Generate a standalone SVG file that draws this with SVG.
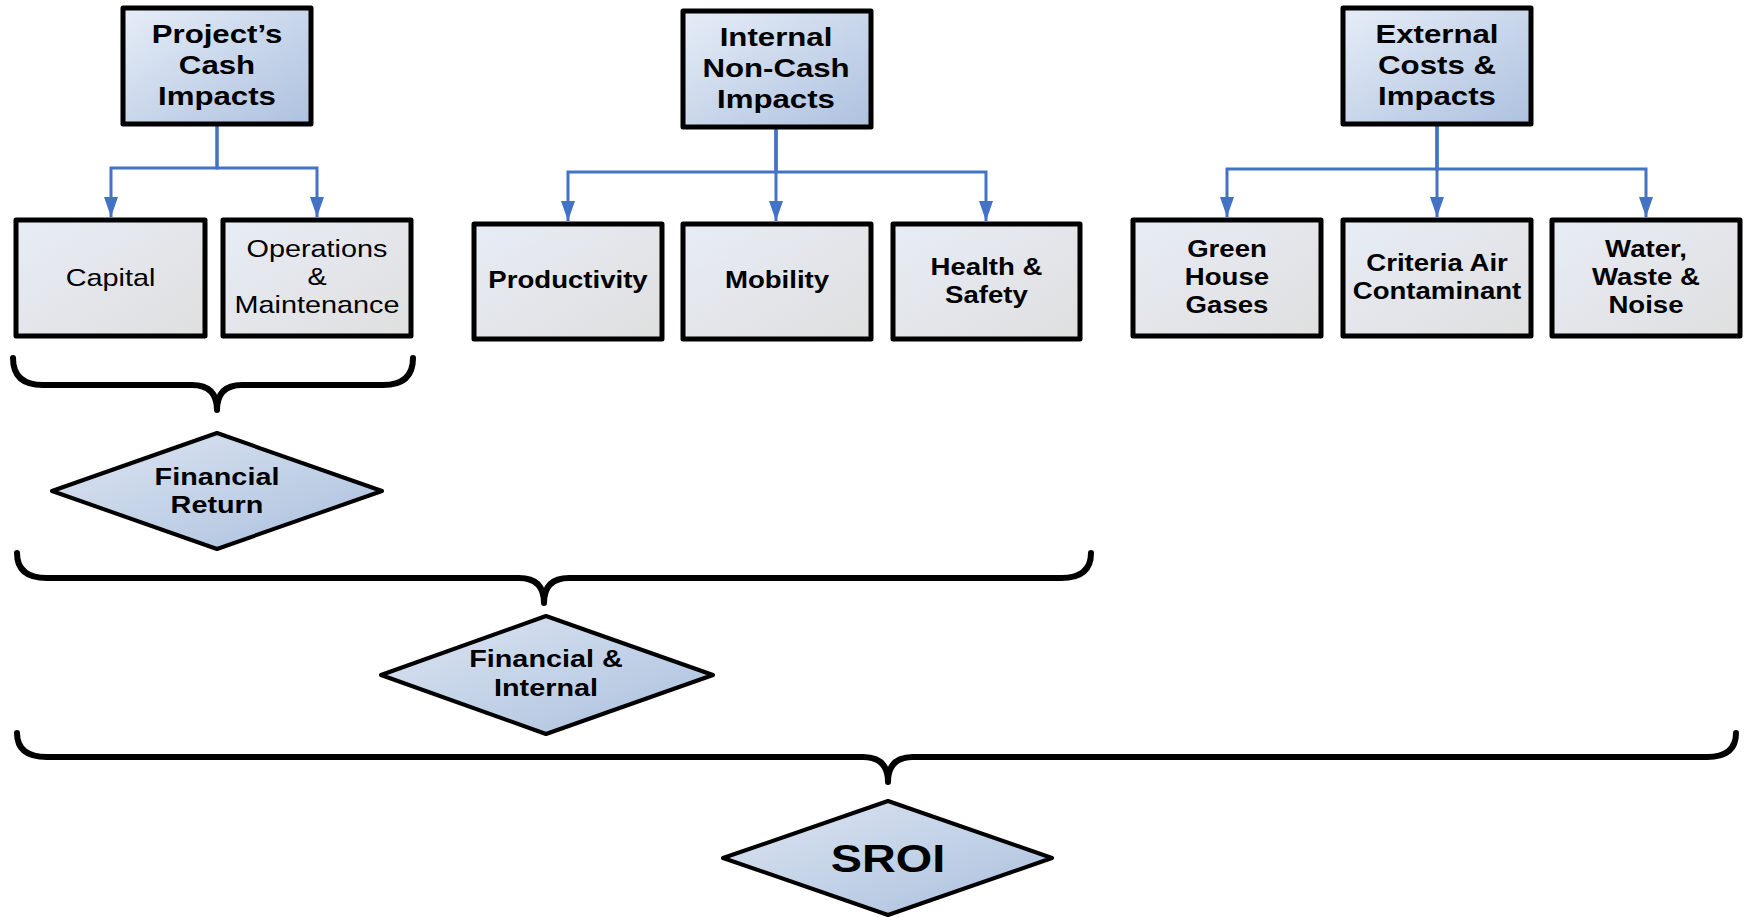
<svg xmlns="http://www.w3.org/2000/svg" width="1746" height="917" viewBox="0 0 1746 917">
<defs>
<linearGradient id="gTop" x1="0" y1="0" x2="1" y2="1">
<stop offset="0" stop-color="#e6edf7"/><stop offset="1" stop-color="#adc1df"/>
</linearGradient>
<linearGradient id="gChild" x1="0" y1="0" x2="1" y2="1">
<stop offset="0" stop-color="#e7ecf5"/><stop offset="1" stop-color="#dfdfdf"/>
</linearGradient>
<linearGradient id="gDia" x1="0" y1="0" x2="1" y2="1">
<stop offset="0" stop-color="#dde6f2"/><stop offset="1" stop-color="#aabfdd"/>
</linearGradient>
<marker id="arr" viewBox="0 0 20 14" markerUnits="userSpaceOnUse" markerWidth="20" markerHeight="14" refX="20" refY="7" orient="auto">
<path d="M0,0 L20,7 L0,14 z" fill="#4472c4"/>
</marker>
<style>
.top{fill:url(#gTop);stroke:#000;stroke-width:5;stroke-linejoin:round}
.child{fill:url(#gChild);stroke:#000;stroke-width:5;stroke-linejoin:round}
.dia{fill:url(#gDia);stroke:#000;stroke-width:4;stroke-linejoin:round}
.conn{fill:none;stroke:#4472c4;stroke-width:3;marker-end:url(#arr)}
.brace{fill:none;stroke:#000;stroke-width:6;stroke-linecap:round;stroke-linejoin:round}
text{font-family:"Liberation Sans",Arial,sans-serif;fill:#000;text-anchor:middle}
.tt{font-size:26px;font-weight:bold}
.cb{font-size:23px;font-weight:bold}
.cn{font-size:24px}
.dt{font-size:24px;font-weight:bold}
.sr{font-size:39px;font-weight:bold}
</style>
</defs>

<g id="connectors">
<path class="conn" d="M217 126 V168 H111 V217"/>
<path class="conn" d="M217 126 V168 H317 V217"/>
<path class="conn" d="M776 129 V172 H568 V221"/>
<path class="conn" d="M776 129 V221"/>
<path class="conn" d="M776 129 V172 H986 V221"/>
<path class="conn" d="M1437 126 V169 H1227 V217"/>
<path class="conn" d="M1437 126 V217"/>
<path class="conn" d="M1437 126 V169 H1646 V217"/>
</g>

<g id="braces">
<path class="brace" d="M13 358 Q13 385 43 385 H192 Q217 385 217 410 Q217 385 242 385 H383 Q413 385 413 358"/>
<path class="brace" d="M17 553 Q17 578 47 578 H519 Q544 578 544 603 Q544 578 569 578 H1061 Q1091 578 1091 553"/>
<path class="brace" d="M17 733 Q17 757 47 757 H863 Q888 757 888 782 Q888 757 913 757 H1707 Q1736 757 1736 733"/>
</g>

<g id="project-cash">
<rect class="top" x="123" y="8" width="188" height="116"/>
<g transform="matrix(1.2 0 0 1 217 0)"><text class="tt" x="0" y="43">Project’s</text><text class="tt" x="0" y="74">Cash</text><text class="tt" x="0" y="105">Impacts</text></g>
</g>
<g id="internal-noncash">
<rect class="top" x="683" y="11" width="188" height="116"/>
<g transform="matrix(1.2 0 0 1 776 0)"><text class="tt" x="0" y="46">Internal</text><text class="tt" x="0" y="77">Non-Cash</text><text class="tt" x="0" y="108">Impacts</text></g>
</g>
<g id="external-costs">
<rect class="top" x="1343" y="8" width="188" height="116"/>
<g transform="matrix(1.2 0 0 1 1437 0)"><text class="tt" x="0" y="43">External</text><text class="tt" x="0" y="74">Costs &amp;</text><text class="tt" x="0" y="105">Impacts</text></g>
</g>

<g id="capital">
<rect class="child" x="16" y="220" width="189" height="116"/>
<g transform="matrix(1.2 0 0 1 110.5 0)"><text class="cn" x="0" y="286">Capital</text></g>
</g>
<g id="operations">
<rect class="child" x="223" y="220" width="188" height="116"/>
<g transform="matrix(1.2 0 0 1 317 0)"><text class="cn" x="0" y="257">Operations</text><text class="cn" x="0" y="285">&amp;</text><text class="cn" x="0" y="313">Maintenance</text></g>
</g>
<g id="productivity">
<rect class="child" x="474" y="224" width="188" height="115"/>
<g transform="matrix(1.2 0 0 1 568 0)"><text class="cb" x="0" y="288">Productivity</text></g>
</g>
<g id="mobility">
<rect class="child" x="683" y="224" width="188" height="115"/>
<g transform="matrix(1.2 0 0 1 777 0)"><text class="cb" x="0" y="288">Mobility</text></g>
</g>
<g id="health-safety">
<rect class="child" x="893" y="224" width="187" height="115"/>
<g transform="matrix(1.2 0 0 1 986.5 0)"><text class="cb" x="0" y="275">Health &amp;</text><text class="cb" x="0" y="303">Safety</text></g>
</g>
<g id="ghg">
<rect class="child" x="1133" y="220" width="188" height="116"/>
<g transform="matrix(1.2 0 0 1 1227 0)"><text class="cb" x="0" y="257">Green</text><text class="cb" x="0" y="285">House</text><text class="cb" x="0" y="313">Gases</text></g>
</g>
<g id="criteria-air">
<rect class="child" x="1343" y="220" width="188" height="116"/>
<g transform="matrix(1.2 0 0 1 1437 0)"><text class="cb" x="0" y="271">Criteria Air</text><text class="cb" x="0" y="299">Contaminant</text></g>
</g>
<g id="water-waste-noise">
<rect class="child" x="1552" y="220" width="188" height="116"/>
<g transform="matrix(1.2 0 0 1 1646 0)"><text class="cb" x="0" y="257">Water,</text><text class="cb" x="0" y="285">Waste &amp;</text><text class="cb" x="0" y="313">Noise</text></g>
</g>

<g id="financial-return">
<polygon class="dia" points="217,433 382,491 217,549 52,491"/>
<g transform="matrix(1.2 0 0 1 217 0)"><text class="dt" x="0" y="485">Financial</text><text class="dt" x="0" y="513">Return</text></g>
</g>
<g id="financial-internal">
<polygon class="dia" points="546,616 713,675 546,734 381,675"/>
<g transform="matrix(1.2 0 0 1 546 0)"><text class="dt" x="0" y="667">Financial &amp;</text><text class="dt" x="0" y="696">Internal</text></g>
</g>
<g id="sroi">
<polygon class="dia" points="888,801 1052,858 888,915 723,858"/>
<g transform="matrix(1.2 0 0 1 888 0)"><text class="sr" x="0" y="872">SROI</text></g>
</g>
</svg>
